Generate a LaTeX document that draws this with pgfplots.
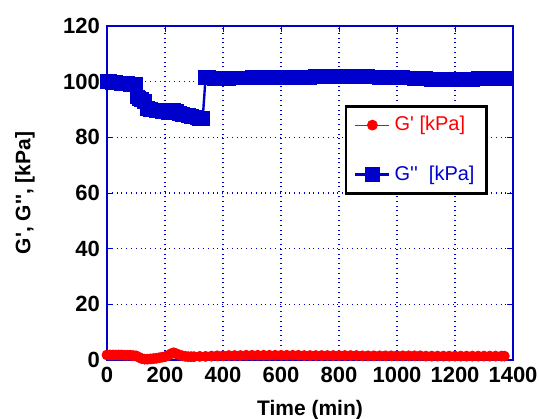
\documentclass[border=0pt]{standalone}
\usepackage{pgfplots}
\pgfplotsset{compat=1.18}
\usepackage{fontspec}
\setmainfont{Liberation Sans}
\definecolor{gblue}{RGB}{0,0,205}
\definecolor{gred}{RGB}{255,0,0}
\newcommand{\q}{\textquotesingle}
\begin{document}
\begin{tikzpicture}
\begin{axis}[
  width=203pt, height=167pt, scale only axis,
  xmin=0, xmax=1400, ymin=0, ymax=120,
  xtick={0,200,...,1400}, ytick={0,20,...,120},
  /pgf/number format/assume math mode=true,
  /pgf/number format/1000 sep={},
  tick label style={font=\fontsize{11}{13}\selectfont\bfseries},
  label style={font=\fontsize{10.5}{12}\selectfont\bfseries},
  xlabel={Time (min)}, ylabel={G\q, G\q\q, [kPa]},
  xlabel style={at={(axis description cs:0.5,-0.15)}, anchor=center},
  ylabel style={at={(axis description cs:-0.202,0.5)}, anchor=center},
  axis line style={gblue, line width=0.6pt},
  tick style={gblue, line width=0.4pt}, tick align=inside,
  major tick length=3pt,
  grid=major, major grid style={gblue, dotted, line width=0.6pt},
  legend style={at={(0.586,0.763)}, anchor=north west, draw=black, line width=1.2pt,
    font=\fontsize{10}{12}\selectfont, row sep=12pt, inner xsep=4pt, inner ysep=3pt},
  legend cell align=left,
  clip=false,
]
\addplot[gred, line width=0.4pt, mark=*, mark size=2.5pt, mark options={solid}] coordinates {
(0,1.8) (10,1.8) (20,1.8) (30,1.8) (40,1.8) (50,1.8) (60,1.7) (70,1.7) (80,1.7) (90,1.6) (100,1.5)
(110,1.0) (120,0.5) (130,0.3) (140,0.3) (150,0.4) (160,0.5) (170,0.6) (180,0.8) (190,1.0) (200,1.2)
(210,1.6) (220,2.2) (230,2.6) (240,2.2) (250,1.8) (260,1.5) (270,1.3) (280,1.2) (290,1.2) (300,1.2)
(320,1.3) (340,1.3) (360,1.4) (380,1.5) (400,1.5) (420,1.6) (440,1.6) (460,1.6) (480,1.7) (500,1.7)
(520,1.7) (540,1.7) (560,1.7) (580,1.7) (600,1.7) (620,1.7) (640,1.7) (660,1.7) (680,1.6) (700,1.6)
(720,1.6) (740,1.6) (760,1.6) (780,1.6) (800,1.6) (820,1.6) (840,1.6) (860,1.6) (880,1.5) (900,1.5)
(920,1.5) (940,1.5) (960,1.5) (980,1.5) (1000,1.5) (1020,1.5) (1040,1.5) (1060,1.5) (1080,1.5) (1100,1.4)
(1120,1.4) (1140,1.4) (1160,1.4) (1180,1.4) (1200,1.4) (1220,1.4) (1240,1.4) (1260,1.4) (1280,1.4)
(1300,1.4) (1320,1.4) (1340,1.4) (1360,1.4) (1370,1.4)
};
\addlegendentry{\textcolor{gred}{G\q{} [kPa]}}
\addplot[gblue, line width=1.2pt, mark=square*, mark size=3.1pt, mark options={solid}] coordinates {
(0,100.2) (10,100.0) (20,99.8) (30,99.6) (40,99.5) (50,99.4) (60,99.3) (70,99.2) (80,99.1) (90,99.1) (100,99.0)
(105,94.5) (110,94.0) (120,93.5) (130,93.0) (140,90.5) (150,90.0) (160,89.8) (170,89.6) (180,89.5)
(190,89.3) (200,89.2) (210,89.0) (220,89.5) (230,89.8) (240,89.2) (250,88.5) (260,88.3) (270,88.0)
(280,87.8) (290,87.5) (300,87.3) (310,87.0) (320,86.8) (330,86.8)
(340,101.6) (350,101.5) (360,101.3) (370,101.1) (380,101.0) (390,101.0) (400,101.1) (420,101.2)
(440,101.3) (460,101.3) (480,101.3) (500,101.4) (520,101.4) (540,101.4) (560,101.4) (580,101.4)
(600,101.5) (620,101.5) (640,101.5) (660,101.5) (680,101.6) (700,101.6) (720,101.8) (740,101.9)
(760,102.0) (780,102.0) (800,102.0) (820,102.0) (840,102.0) (860,101.9) (880,101.9) (900,101.8)
(920,101.7) (940,101.6) (960,101.6) (980,101.5) (1000,101.5) (1020,101.4) (1040,101.3) (1060,101.2)
(1080,101.1) (1100,101.0) (1120,100.9) (1140,100.8) (1160,100.7) (1180,100.7) (1200,100.6)
(1220,100.7) (1240,100.8) (1260,100.9) (1280,101.0) (1300,101.0) (1320,101.0) (1340,101.0)
(1360,101.0) (1370,101.0)
};
\addlegendentry{\textcolor{gblue}{G\q\q\ \ [kPa]}}
\end{axis}
\pgfresetboundingbox
\path[use as bounding box] ([xshift=-53.5pt,yshift=-29pt]current axis.south west)
  rectangle ([xshift=13pt,yshift=13pt]current axis.north east);
\end{tikzpicture}
\end{document}
